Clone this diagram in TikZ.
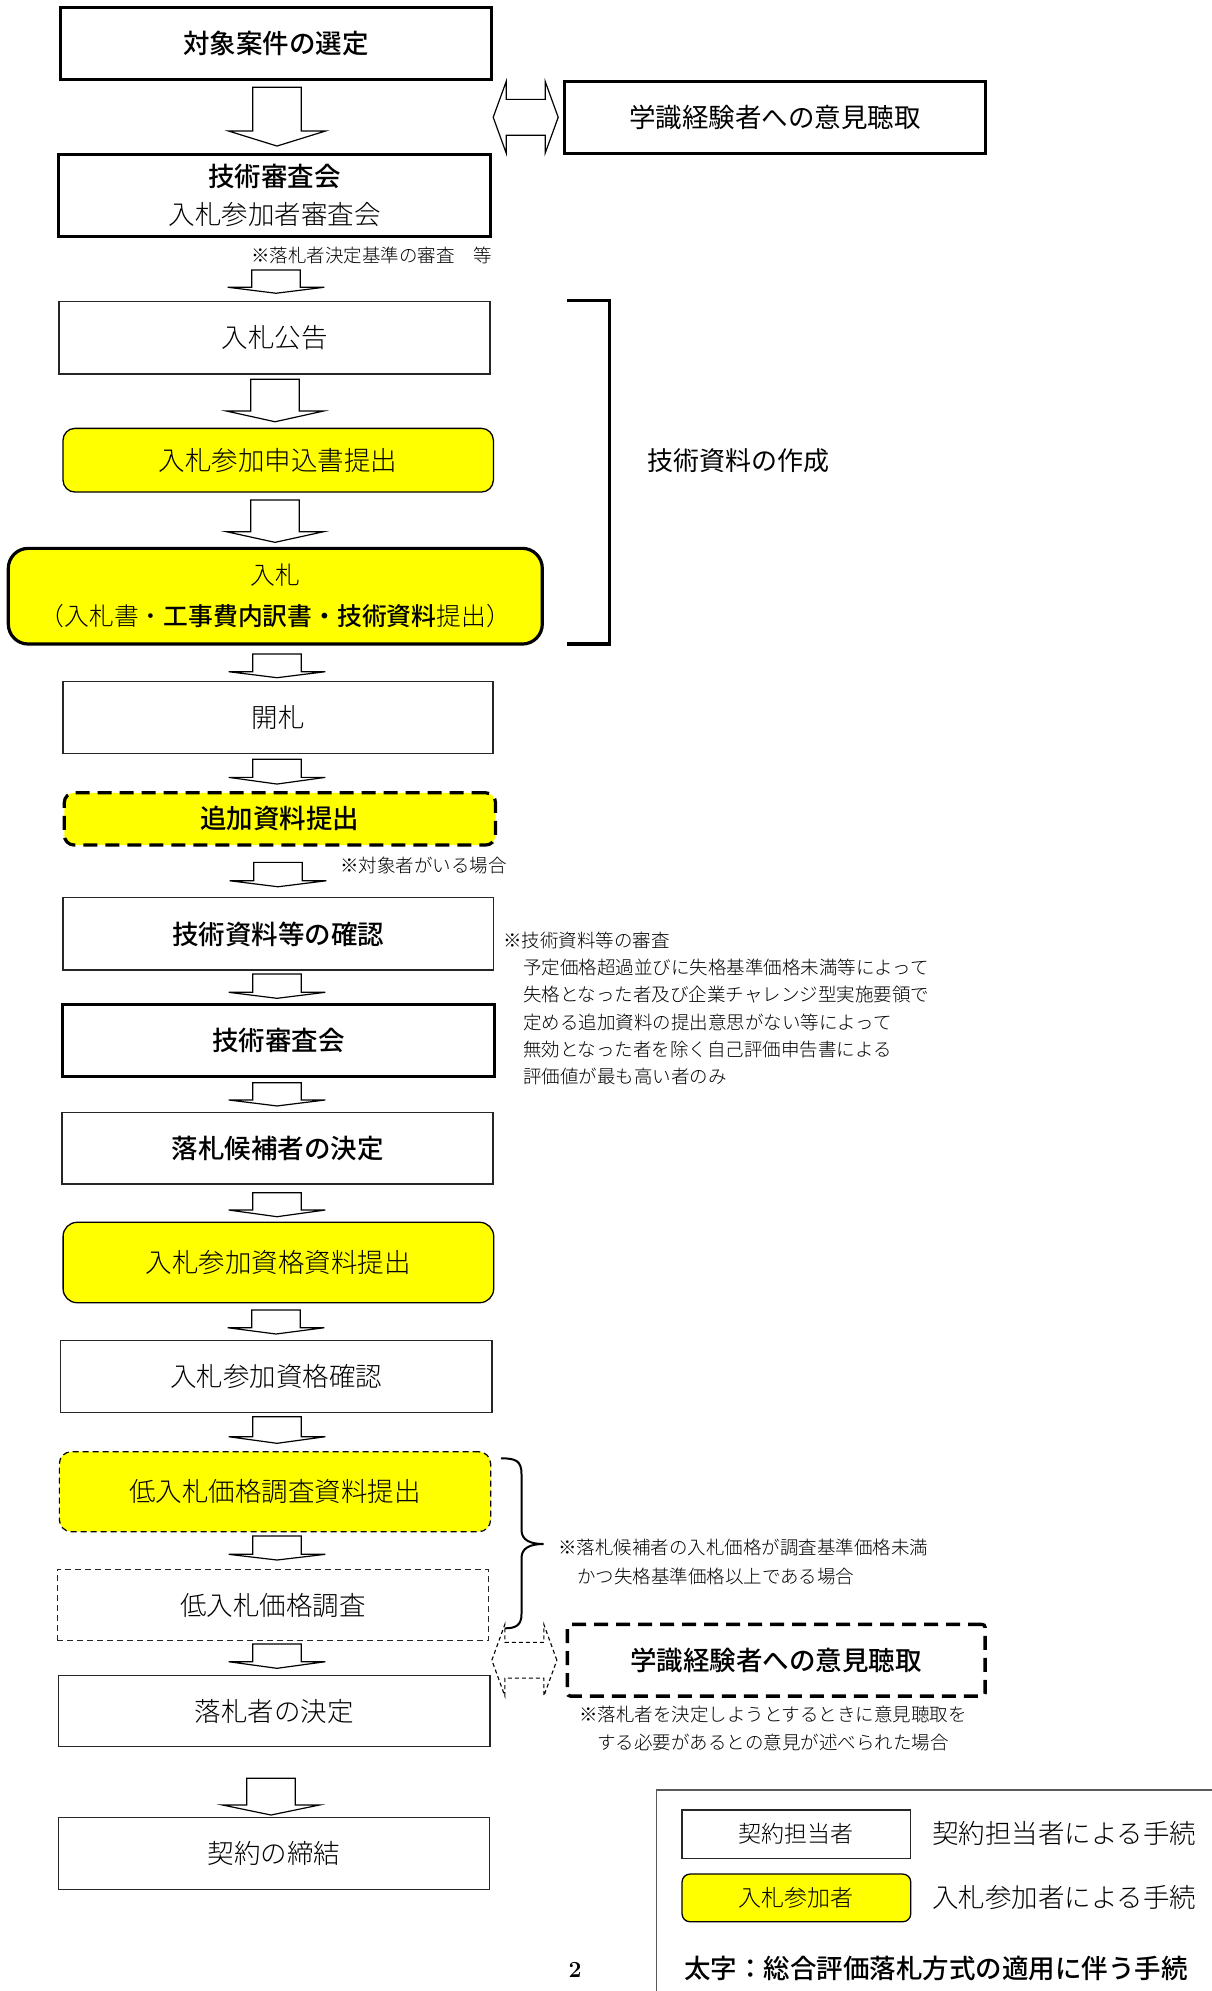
\documentclass[tikz,border=0pt]{standalone}
\usepackage{fontspec}
\usetikzlibrary{calc}
\IfFontExistsTF{Noto Sans CJK JP Medium}
  {\newfontfamily\jp{Noto Sans CJK JP}[BoldFont={Noto Sans CJK JP Medium}]}
  {\newfontfamily\jp{Noto Sans CJK JP}}
\newfontfamily\jpr{Noto Sans CJK JP}
\IfFontExistsTF{Noto Sans CJK JP Light}{\newfontfamily\jpl{Noto Sans CJK JP Light}}{\newfontfamily\jpl{Noto Sans CJK JP}}
\definecolor{yel}{HTML}{FFFF00}
\newcommand\fsz[2]{\fontsize{#1}{#2}\selectfont}
\newcommand\B[1]{{\jp\bfseries #1}}
% block arrow from node #1 down to node #2: #3 centre x, #4 gap below #1, #5 head height, #6 gap above #2
\newcommand\barrow[6]{%
  \path[barrow] let \p1=(#1.south), \p2=(#2.north) in
   ({#3pt-24.3pt},{\y1-#4pt}) -- ({#3pt+24.3pt},{\y1-#4pt}) --
   ({#3pt+24.3pt},{\y2+#6pt+#5pt}) -- ({#3pt+48.4pt},{\y2+#6pt+#5pt}) --
   ({#3pt},{\y2+#6pt}) -- ({#3pt-48.4pt},{\y2+#6pt+#5pt}) --
   ({#3pt-24.3pt},{\y2+#6pt+#5pt}) -- cycle;}
% left-right double block arrow ending #2 left of node #1's west side
\newcommand\dblarrow[3]{%
  \path[#3] let \p1=(#1.west) in
   ({\x1-#2pt},{\y1}) -- ({\x1-#2pt-13pt},{\y1+35.8pt}) -- ({\x1-#2pt-13pt},{\y1+17.9pt}) --
   ({\x1-#2pt-52pt},{\y1+17.9pt}) -- ({\x1-#2pt-52pt},{\y1+35.8pt}) -- ({\x1-#2pt-65pt},{\y1}) --
   ({\x1-#2pt-52pt},{\y1-35.8pt}) -- ({\x1-#2pt-52pt},{\y1-17.9pt}) -- ({\x1-#2pt-13pt},{\y1-17.9pt}) --
   ({\x1-#2pt-13pt},{\y1-35.8pt}) -- cycle;}
\begin{document}
\begin{tikzpicture}[x=1pt,y=-1pt,
  every node/.style={inner sep=0pt,outer sep=0pt},
  box/.style={draw=black!85,line width=1.3pt,fill=white,minimum width=431pt,minimum height=72pt,
     align=center,font=\jpl\fsz{26.5}{32}},
  boldbox/.style={box,font=\jp\bfseries\fsz{26.5}{32}},
  thickbox/.style={boldbox,draw=black,line width=3pt},
  ybox/.style={box,fill=yel,draw=black,rounded corners=12pt},
  bigdash/.style={dash pattern=on 14pt off 8pt},
  smalldash/.style={dash pattern=on 6pt off 4pt},
  barrow/.style={draw=black,line width=1.2pt,fill=white,line join=miter},
  dbl/.style={draw=black,line width=1.2pt,fill=white},
  dbldash/.style={draw=black,line width=1.1pt,fill=white,dash pattern=on 4pt off 3pt},
  note/.style={anchor=base west,font=\jpl\fsz{18.5}{27}},
  legtext/.style={anchor=base west,font=\jpl\fsz{26.5}{32}}]
\fill[white] (0,0) rectangle (1212,1991);
\useasboundingbox (0,0) rectangle (1212,1991);

% ---- left column ----
\node[thickbox,minimum width=431.3pt,minimum height=72pt] (sel) at (276.2,43.3) {対象案件の選定};
\node[thickbox,minimum width=432pt,minimum height=81.7pt,font=\jpl\fsz{26.5}{38}] (tech1) at (274.5,195.2)
   {\B{技術審査会}\\入札参加者審査会};
\node[box,minimum width=431pt,minimum height=72.3pt] (koukoku) at (274.5,337.8) {入札公告};
\node[ybox,minimum width=430.4pt,minimum height=63.7pt] (moushi) at (278.2,460.2) {入札参加申込書提出};
\node[ybox,line width=3.2pt,rounded corners=20pt,minimum width=534pt,minimum height=95.7pt,font=\jpl\fsz{24.8}{41}] (nyu) at (275.3,596.2)
   {入札\\（入札書・\B{工事費内訳書・技術資料}提出）};
\node[box,minimum width=430pt,minimum height=71.6pt] (kai) at (278,717.5) {開札};
\node[ybox,bigdash,line width=3.2pt,rounded corners=10pt,minimum width=431.3pt,minimum height=52.3pt,font=\jp\bfseries\fsz{26.5}{32}] (tsuika) at (279.9,818.9) {追加資料提出};
\node[boldbox,minimum width=430.6pt,minimum height=72.3pt] (kaku) at (278.4,933.9) {技術資料等の確認};
\node[thickbox,line width=3.4pt,minimum width=432pt,minimum height=72.4pt] (tech2) at (278.4,1040.5) {技術審査会};
\node[boldbox,minimum width=430.9pt,minimum height=71.3pt] (kouho) at (277.5,1148.3) {落札候補者の決定};
\node[ybox,rounded corners=14pt,minimum width=430.6pt,minimum height=80.4pt] (shikaku) at (278.4,1262.5) {入札参加資格資料提出};
\node[box,minimum width=431.3pt,minimum height=71.6pt] (shikakak) at (276.2,1376.5) {入札参加資格確認};
\node[ybox,smalldash,line width=1.2pt,minimum width=431.3pt,minimum height=80pt] (teishi) at (275,1491.7) {低入札価格調査資料提出};
\node[box,smalldash,line width=1.2pt,minimum width=431.3pt,minimum height=71.4pt] (teichou) at (273,1605) {低入札価格調査};
\node[box,minimum width=431.3pt,minimum height=71pt] (raku) at (274.2,1711.2) {落札者の決定};
\node[box,minimum width=430.5pt,minimum height=71.6pt] (kei) at (273.9,1853.5) {契約の締結};

% ---- block arrows ----
\barrow{sel}{tech1}{277}{8}{15}{8.3}
\barrow{tech1}{koukoku}{276}{34}{6}{8.4}
\barrow{koukoku}{moushi}{275}{5.3}{10.7}{6.6}
\barrow{moushi}{nyu}{275}{8}{10.6}{6}
\barrow{nyu}{kai}{277}{10}{6}{4}
\barrow{kai}{tsuika}{277}{6}{6.7}{8.7}
\barrow{tsuika}{kaku}{278}{17.3}{6}{11}
\barrow{kaku}{tech2}{277}{4}{6}{6}
\barrow{tech2}{kouho}{277}{6}{6}{6.7}
\barrow{kouho}{shikaku}{277}{8.7}{6.7}{5.6}
\barrow{shikaku}{shikakak}{276}{7.3}{6.3}{6.7}
\barrow{shikakak}{teishi}{277}{4.4}{6.6}{8.4}
\barrow{teishi}{teichou}{277}{4.3}{5.7}{9.3}
\barrow{teichou}{raku}{277}{3.3}{6.6}{7.4}
\barrow{raku}{kei}{271}{31.6}{10}{2.7}

% ---- notes ----
\node[note] (n1) at (251,262) {※落札者決定基準の審査　等};
\node[note] (n2) at (340,872) {※対象者がいる場合};
\node[note] (n3a) at (503,947) {※技術資料等の審査};
\node[note] (n3b) at (523,974) {予定価格超過並びに失格基準価格未満等によって};
\node[note] (n3c) at (523,1001) {失格となった者及び企業チャレンジ型実施要領で};
\node[note] (n3d) at (523,1029) {定める追加資料の提出意思がない等によって};
\node[note] (n3e) at (523,1056) {無効となった者を除く自己評価申告書による};
\node[note] (n3f) at (523,1083) {評価値が最も高い者のみ};
\node[note] (n4a) at (558,1554) {※落札候補者の入札価格が調査基準価格未満};
\node[note] (n4b) at (577,1583) {かつ失格基準価格以上である場合};

% ---- right column ----
\node[thickbox,font=\jpr\fsz{26.5}{32},minimum width=421pt,minimum height=72.5pt] (gak1) at (775,117.3) {学識経験者への意見聴取};
\dblarrow{gak1}{6.3}{dbl}
\draw[line width=3.5pt] (567,300.7) -- (609.3,300.7) -- (609.3,644) -- (567,644);
\node[anchor=base west,font=\jpr\fsz{26}{30}] (tsk) at (647,470) {技術資料の作成};
\draw[line width=2pt] (501,1458.3) .. controls (516,1458.3) and (521.5,1461) .. (521.5,1474)
   -- (521.5,1530) .. controls (521.5,1540) and (530,1544) .. (543.5,1544)
   .. controls (530,1544) and (521.5,1548) .. (521.5,1558)
   -- (521.5,1614) .. controls (521.5,1625) and (516,1628.3) .. (505,1628.3);
\node[thickbox,bigdash,line width=3.4pt,rounded corners=3pt,font=\jp\bfseries\fsz{26.5}{32},minimum width=417.7pt,minimum height=71.7pt] (gak2) at (776.2,1660.2) {学識経験者への意見聴取};
\dblarrow{gak2}{10.5}{dbldash}
\node[note,anchor=base] (n5a) at (773,1721) {※落札者を決定しようとするときに意見聴取を};
\node[note,anchor=base] (n5b) at (773,1749) {する必要があるとの意見が述べられた場合};

% ---- legend ----
\draw[line width=1.5pt,draw=black!65] (1215,1790) -- (656.4,1790) -- (656.4,1995);
\node[box,font=\jpl\fsz{23}{28},minimum width=228.7pt,minimum height=48.3pt] (leg1) at (796.4,1834.2) {契約担当者};
\node[ybox,rounded corners=8pt,font=\jpl\fsz{23}{28},minimum width=228.7pt,minimum height=47.7pt] (leg2) at (796.4,1897.9) {入札参加者};
\node[legtext] (lt1) at (932,1843) {契約担当者による手続};
\node[legtext] (lt2) at (932,1907) {入札参加者による手続};
\node[anchor=base west,font=\jp\bfseries\fsz{26.5}{32}] (lt3) at (684,1978) {太字：総合評価落札方式の適用に伴う手続};
\node[anchor=base,font=\bfseries\fsz{23}{26}] (pg) at (575,1977) {2};
\end{tikzpicture}
\end{document}
